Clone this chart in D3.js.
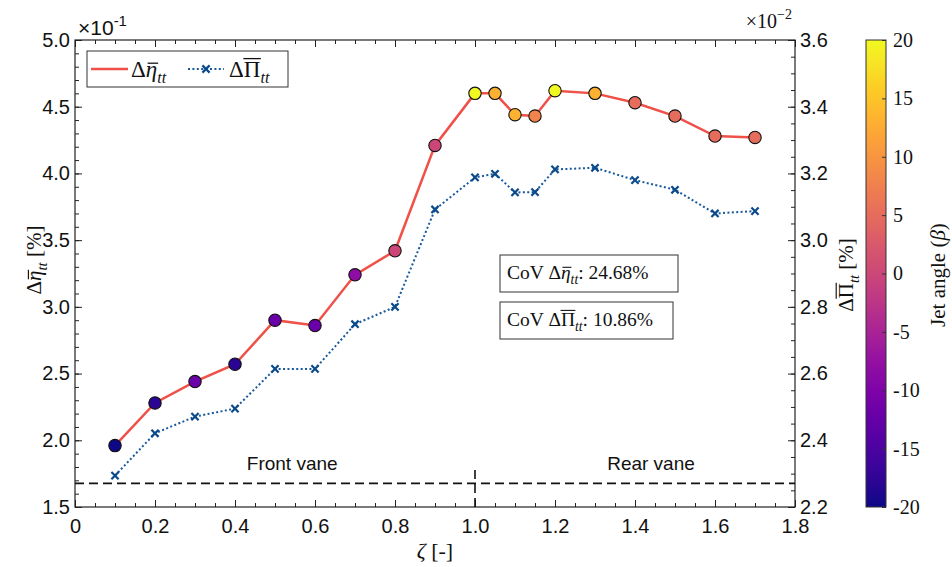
<!DOCTYPE html>
<html>
<head>
<meta charset="utf-8">
<script src="https://cdn.jsdelivr.net/npm/d3@7"></script>
<style>
  body { margin: 0; background: #fff; }
  svg text { fill: #111; }
</style>
</head>
<body>
<svg id="chart" width="952" height="567"></svg>
<script>
// Axial position along the vane row
const zeta = [0.1, 0.2, 0.3, 0.4, 0.5, 0.6, 0.7, 0.8, 0.9, 1.0, 1.05, 1.1, 1.15, 1.2, 1.3, 1.4, 1.5, 1.6, 1.7];
// Δη̄_tt, in units of 1e-1 %
const etaTT = [1.96, 2.28, 2.44, 2.57, 2.90, 2.86, 3.24, 3.42, 4.21, 4.60, 4.60, 4.44, 4.43, 4.62, 4.60, 4.53, 4.43, 4.28, 4.27];
// ΔΠ̄_tt, in units of 1e-2 %
const piTT = [2.294, 2.421, 2.471, 2.495, 2.614, 2.614, 2.748, 2.800, 3.092, 3.188, 3.199, 3.143, 3.144, 3.212, 3.217, 3.180, 3.151, 3.080, 3.087];
// Jet angle β used to colour each efficiency marker
const jetAngle = [-20, -18, -12, -18, -12, -12, -8, 0, 0, 20, 13, 13, 8, 20, 13, 5, 5, 5, 5];

const xTicks = [0, 0.2, 0.4, 0.6, 0.8, 1.0, 1.2, 1.4, 1.6, 1.8];
const yLeftTicks = [1.5, 2.0, 2.5, 3.0, 3.5, 4.0, 4.5, 5.0];
const yRightTicks = [2.2, 2.4, 2.6, 2.8, 3.0, 3.2, 3.4, 3.6];
const cbTicks = [-20, -15, -10, -5, 0, 5, 10, 15, 20];
const covEta = "24.68%";
const covPi = "10.86%";
const vaneLevel = 1.677;   // dashed separator level (left-axis units)
const vaneSplit = 1.0;     // front / rear vane boundary

const SANS = "'Liberation Sans', Arial, sans-serif";
const SERIF = "'Liberation Serif', 'Times New Roman', serif";
const RED = "#ef5148";
const BLUE = "#17599c";
const BLUE_DARK = "#0b4a8a";
const AXIS = "#222";

const svg = d3.select("#chart");
const L = 75, R = 795, T = 40, B = 507;

const x = d3.scaleLinear().domain([0, 1.8]).range([L, R]);
const yL = d3.scaleLinear().domain([1.5, 5.0]).range([B, T]);
const yR = d3.scaleLinear().domain([2.2, 3.6]).range([B, T]);
const color = d3.scaleSequential(d3.interpolatePlasma).domain([-20, 20]);

const rangeStep = (a, b, s) => d3.range(Math.round((b - a) / s) + 1).map(i => +(a + i * s).toFixed(4));

// ---- axes ----
function styleAxis(g) {
  g.select(".domain").remove();
  g.selectAll(".tick line").attr("stroke", AXIS).attr("stroke-width", 1);
  g.selectAll(".tick text").attr("font-family", SANS).attr("font-size", 20).attr("fill", "#111");
}
const fmtX = d => d === 0 ? "0" : d3.format(".1f")(d);

// minor ticks first
svg.append("g").attr("transform", `translate(0,${B})`)
  .call(d3.axisBottom(x).tickValues(rangeStep(0, 1.8, 0.05)).tickSizeInner(-4).tickSizeOuter(0).tickFormat(""))
  .call(styleAxis);
svg.append("g").attr("transform", `translate(0,${T})`)
  .call(d3.axisTop(x).tickValues(rangeStep(0, 1.8, 0.05)).tickSizeInner(-4).tickSizeOuter(0).tickFormat(""))
  .call(styleAxis);
svg.append("g").attr("transform", `translate(${L},0)`)
  .call(d3.axisLeft(yL).tickValues(rangeStep(1.5, 5.0, 0.1)).tickSizeInner(-4).tickSizeOuter(0).tickFormat(""))
  .call(styleAxis);
svg.append("g").attr("transform", `translate(${R},0)`)
  .call(d3.axisRight(yR).tickValues(rangeStep(2.2, 3.6, 0.05)).tickSizeInner(-4).tickSizeOuter(0).tickFormat(""))
  .call(styleAxis);

// major ticks with labels
svg.append("g").attr("transform", `translate(0,${B})`)
  .call(d3.axisBottom(x).tickValues(xTicks).tickSizeInner(-7).tickSizeOuter(0).tickPadding(12).tickFormat(fmtX))
  .call(styleAxis);
svg.append("g").attr("transform", `translate(0,${T})`)
  .call(d3.axisTop(x).tickValues(xTicks).tickSizeInner(-7).tickSizeOuter(0).tickFormat(""))
  .call(styleAxis);
svg.append("g").attr("transform", `translate(${L},0)`)
  .call(d3.axisLeft(yL).tickValues(yLeftTicks).tickSizeInner(-7).tickSizeOuter(0).tickPadding(5).tickFormat(d3.format(".1f")))
  .call(styleAxis);
svg.append("g").attr("transform", `translate(${R},0)`)
  .call(d3.axisRight(yR).tickValues(yRightTicks).tickSizeInner(-7).tickSizeOuter(0).tickPadding(5).tickFormat(d3.format(".1f")))
  .call(styleAxis);

// plot frame
svg.append("rect").attr("x", L).attr("y", T).attr("width", R - L).attr("height", B - T)
  .attr("fill", "none").attr("stroke", AXIS).attr("stroke-width", 1.2);

// ---- math-style text: italics, subscripts and overbars ----
// Writes the parts into a group placed by `transform`; overbars are drawn as
// lines using the measured glyph positions of the barred character.
function mathText(parent, transform, parts, size, opts = {}) {
  const g = parent.append("g").attr("transform", transform);
  const t = g.append("text").attr("font-family", opts.family || SERIF).attr("font-size", size)
    .attr("text-anchor", opts.anchor || "start");
  if (opts.fill) t.attr("fill", opts.fill);
  let ci = 0;
  const bars = [];
  parts.forEach(p => {
    const ts = t.append("tspan").text(p.t);
    if (p.italic) ts.attr("font-style", "italic");
    if (p.sub) ts.attr("font-size", size * 0.7).attr("dy", size * 0.28);
    if (p.back) ts.attr("dy", p.back);
    if (p.bar) bars.push({ ci, ...p.bar });
    ci += p.t.length;
  });
  bars.forEach(b => {
    const s = t.node().getStartPositionOfChar(b.ci);
    const e = t.node().getEndPositionOfChar(b.ci);
    g.append("line")
      .attr("x1", s.x + b.x0 * size).attr("x2", e.x + b.x1 * size)
      .attr("y1", s.y - b.h * size).attr("y2", s.y - b.h * size)
      .attr("stroke", opts.fill || "#111").attr("stroke-width", Math.max(1, size * 0.055));
  });
  return g;
}
const etaParts = [{t: "Δ"}, {t: "η", italic: true, bar: {h: 0.6, x0: 0.08, x1: 0.04}}, {t: "tt", italic: true, sub: true}];
const piParts = [{t: "Δ"}, {t: "Π", bar: {h: 0.8, x0: -0.02, x1: 0.02}}, {t: "tt", italic: true, sub: true}];

// ---- exponent labels ----
{
  const t = svg.append("text").attr("x", 78).attr("y", 35).attr("font-family", SANS).attr("font-size", 21);
  t.append("tspan").text("×10");
  t.append("tspan").text("-1").attr("font-size", 15).attr("dy", -9);
}
{
  const t = svg.append("text").attr("x", 792).attr("y", 28).attr("text-anchor", "end")
    .attr("font-family", SERIF).attr("font-size", 20);
  t.append("tspan").text("×10");
  t.append("tspan").text("−2").attr("font-size", 14).attr("dy", -9);
}

// ---- axis titles ----
mathText(svg, "translate(41,260) rotate(-90)", [...etaParts, {t: " [%]", back: -21 * 0.28}], 21, {anchor: "middle"});
mathText(svg, "translate(853,275) rotate(-90)", [...piParts, {t: " [%]", back: -21 * 0.28}], 21, {anchor: "middle"});
mathText(svg, "translate(435,558)", [{t: "ζ", italic: true}, {t: " [-]"}], 22, {anchor: "middle", fill: "#333"});

// ---- vane separators ----
svg.append("line").attr("x1", x(0)).attr("x2", x(1.8)).attr("y1", yL(vaneLevel)).attr("y2", yL(vaneLevel))
  .attr("stroke", "#111").attr("stroke-width", 1.6).attr("stroke-dasharray", "9,5");
svg.append("line").attr("x1", x(vaneSplit)).attr("x2", x(vaneSplit)).attr("y1", yL(1.5)).attr("y2", yL(1.8))
  .attr("stroke", "#111").attr("stroke-width", 1.6).attr("stroke-dasharray", "9,5");
svg.append("text").attr("x", x(0.543)).attr("y", 470).attr("text-anchor", "middle")
  .attr("font-family", SANS).attr("font-size", 19).text("Front vane");
svg.append("text").attr("x", x(1.44)).attr("y", 470).attr("text-anchor", "middle")
  .attr("font-family", SANS).attr("font-size", 19).text("Rear vane");

// ---- series ----
const idx = d3.range(zeta.length);
svg.append("path").datum(idx)
  .attr("fill", "none").attr("stroke", RED).attr("stroke-width", 2.5)
  .attr("d", d3.line().x(i => x(zeta[i])).y(i => yL(etaTT[i])));
svg.append("path").datum(idx)
  .attr("fill", "none").attr("stroke", BLUE).attr("stroke-width", 2).attr("stroke-dasharray", "2,2.4")
  .attr("d", d3.line().x(i => x(zeta[i])).y(i => yR(piTT[i])));

const crossPath = s => `M${-s},${-s}L${s},${s}M${-s},${s}L${s},${-s}`;
svg.append("g").selectAll("path").data(idx).join("path")
  .attr("transform", i => `translate(${x(zeta[i])},${yR(piTT[i])})`)
  .attr("d", crossPath(3.6)).attr("stroke", BLUE_DARK).attr("stroke-width", 2.2).attr("fill", "none");

svg.append("g").selectAll("circle").data(idx).join("circle")
  .attr("cx", i => x(zeta[i])).attr("cy", i => yL(etaTT[i])).attr("r", 6.2)
  .attr("fill", i => color(jetAngle[i])).attr("stroke", "#111").attr("stroke-width", 1.1);

// ---- legend ----
{
  const g = svg.append("g");
  g.append("rect").attr("x", 87).attr("y", 51).attr("width", 201).attr("height", 36)
    .attr("fill", "#fff").attr("stroke", "#333").attr("stroke-width", 1);
  g.append("line").attr("x1", 91).attr("x2", 128).attr("y1", 69).attr("y2", 69)
    .attr("stroke", RED).attr("stroke-width", 2.5);
  mathText(g, "translate(131,77)", etaParts, 23);
  g.append("line").attr("x1", 188).attr("x2", 224).attr("y1", 69).attr("y2", 69)
    .attr("stroke", BLUE).attr("stroke-width", 2).attr("stroke-dasharray", "2,2.4");
  g.append("path").attr("transform", "translate(206,69)").attr("d", crossPath(3.6))
    .attr("stroke", BLUE_DARK).attr("stroke-width", 2.2);
  mathText(g, "translate(229,77)", piParts, 23);
}

// ---- CoV annotation boxes ----
function covBox(y0, w, parts) {
  svg.append("rect").attr("x", 500).attr("y", y0).attr("width", w).attr("height", 37)
    .attr("fill", "#fff").attr("stroke", "#333").attr("stroke-width", 1);
  mathText(svg, `translate(507,${y0 + 24})`, parts, 19.5);
}
covBox(255, 178, [{t: "CoV "}, ...etaParts, {t: ": " + covEta, back: -19.5 * 0.28}]);
covBox(302, 173, [{t: "CoV "}, ...piParts, {t: ": " + covPi, back: -19.5 * 0.28}]);

// ---- colour bar ----
{
  const cbX = 866, cbW = 20;
  const cy = d3.scaleLinear().domain([-20, 20]).range([B, T]);
  const grad = svg.append("defs").append("linearGradient").attr("id", "plasmaGrad")
    .attr("x1", 0).attr("y1", 1).attr("x2", 0).attr("y2", 0);
  d3.range(0, 1.0001, 0.05).forEach(t => grad.append("stop")
    .attr("offset", t).attr("stop-color", d3.interpolatePlasma(t)));
  svg.append("rect").attr("x", cbX).attr("y", T).attr("width", cbW).attr("height", B - T)
    .attr("fill", "url(#plasmaGrad)");
  const ax = svg.append("g").attr("transform", `translate(${cbX + cbW},0)`)
    .call(d3.axisRight(cy).tickValues(cbTicks).tickSizeInner(-4).tickSizeOuter(0).tickPadding(7).tickFormat(d => String(d)));
  ax.select(".domain").remove();
  ax.selectAll(".tick line").attr("stroke", "#333");
  ax.selectAll(".tick text").attr("font-family", SERIF).attr("font-size", 20).attr("fill", "#111");
  svg.append("rect").attr("x", cbX).attr("y", T).attr("width", cbW).attr("height", B - T)
    .attr("fill", "none").attr("stroke", "#333").attr("stroke-width", 1);
  mathText(svg, "translate(945,275) rotate(-90)",
    [{t: "Jet angle ("}, {t: "β", italic: true}, {t: ")"}], 21, {anchor: "middle", fill: "#444"});
}
</script>
</body>
</html>
